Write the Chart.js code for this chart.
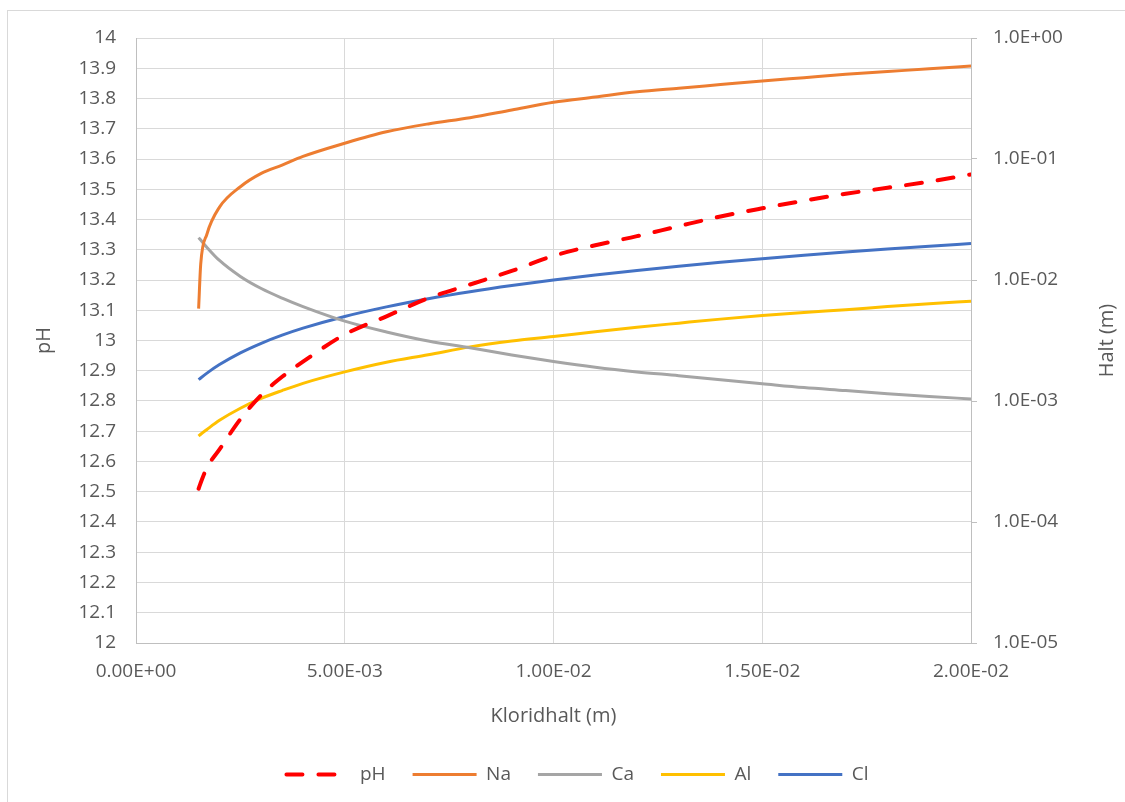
<!DOCTYPE html>
<html>
<head>
<meta charset="utf-8">
<script src="https://cdn.jsdelivr.net/npm/chart.js@4.4.1/dist/chart.umd.min.js"></script>
<style>
  html, body { margin: 0; padding: 0; background: #fff; }
  #wrap { position: relative; width: 1125px; height: 802px; overflow: hidden; }
  #frame { position: absolute; left: 7px; top: 10px; width: 1140px; height: 820px; border: 1px solid #d9d9d9; box-sizing: border-box; }
  #chart { position: absolute; left: 0; top: 0; }
</style>
</head>
<body>
<div id="wrap">
  <div id="frame"></div>
  <canvas id="chart" width="1125" height="802"></canvas>
</div>
<script>
// --- data ---
const kloridhalt = [0.0015, 0.00155, 0.0017, 0.002, 0.0025, 0.003, 0.0035, 0.004, 0.005, 0.006, 0.007, 0.008,
                    0.009, 0.010, 0.011, 0.012, 0.013, 0.014, 0.015, 0.016, 0.017, 0.018, 0.019, 0.020];
const pH = [12.51, 12.53, 12.58, 12.64, 12.74, 12.82, 12.88, 12.93, 13.02, 13.08, 13.14, 13.185,
            13.23, 13.28, 13.315, 13.345, 13.378, 13.41, 13.437, 13.462, 13.485, 13.505, 13.525, 13.549];
const na = [0.0058, 0.0135, 0.024, 0.040, 0.059, 0.076, 0.089, 0.105, 0.135, 0.168, 0.195, 0.219,
            0.254, 0.294, 0.325, 0.359, 0.385, 0.412, 0.441, 0.470, 0.501, 0.528, 0.557, 0.586];
const ca = [0.0224, 0.0214, 0.0186, 0.0145, 0.0107, 0.0085, 0.00708, 0.00603, 0.00457, 0.00372, 0.00313, 0.00275,
            0.0024, 0.00212, 0.0019, 0.00174, 0.00162, 0.0015, 0.00139, 0.00129, 0.00122, 0.00115, 0.00109, 0.00104];
const al = [0.000513, 0.000531, 0.000582, 0.000692, 0.000871, 0.00105, 0.00122, 0.0014, 0.00174, 0.00209, 0.00241, 0.0028,
            0.00313, 0.00341, 0.00374, 0.00407, 0.0044, 0.00475, 0.00509, 0.0054, 0.00569, 0.00603, 0.00635, 0.00668];
const cl = [0.0015, 0.00155, 0.0017, 0.002, 0.0025, 0.003, 0.0035, 0.004, 0.005, 0.006, 0.007, 0.008,
            0.009, 0.010, 0.011, 0.012, 0.013, 0.014, 0.015, 0.016, 0.017, 0.018, 0.019, 0.020];

const haltTicks = [1e-5, 1e-4, 1e-3, 1e-2, 1e-1, 1];

const FONT = '"Open Sans", "Noto Sans", sans-serif';
const TXT = '#595959';
const GRID = '#d9d9d9';
const AXIS = '#bfbfbf';

// 5.00E-03 style labels like Excel
function sci(v, d) {
    const [m, e] = Number(v).toExponential(d).split('e');
    const n = parseInt(e, 10);
    return m + 'E' + (n < 0 ? '-' : '+') + String(Math.abs(n)).padStart(2, '0');
}

function pts(values) {
    return kloridhalt.map((x, i) => ({ x: x, y: values[i] }));
}

function serie(label, values, color, axis, extra) {
    return Object.assign({
        label: label,
        data: pts(values),
        yAxisID: axis,
        borderColor: color,
        backgroundColor: color,
        borderWidth: 3,
        pointRadius: 0,
        cubicInterpolationMode: 'monotone',
        fill: false
    }, extra || {});
}

// legend with point style loses the dash, put it back from the dataset
function legendLabels(chart) {
    return Chart.defaults.plugins.legend.labels.generateLabels(chart).map(item => {
        const ds = chart.data.datasets[item.datasetIndex];
        item.lineDash = ds.borderDash || [];
        item.lineWidth = ds.borderWidth;
        item.lineCap = ds.borderCapStyle || 'butt';
        item.strokeStyle = ds.borderColor;
        return item;
    });
}

// right axis title reads bottom-to-top, chart.js would turn it the other way
const haltTitle = {
    id: 'haltTitle',
    afterDraw(chart) {
        const { ctx, chartArea } = chart;
        ctx.save();
        ctx.translate(chart.width - 18, (chartArea.top + chartArea.bottom) / 2);
        ctx.rotate(-Math.PI / 2);
        ctx.font = '20px ' + FONT;
        ctx.fillStyle = TXT;
        ctx.textAlign = 'center';
        ctx.textBaseline = 'middle';
        ctx.fillText('Halt (m)', 0, 0);
        ctx.restore();
    }
};

new Chart(document.getElementById('chart'), {
    type: 'line',
    data: {
        datasets: [
            serie('pH', pH, '#ff0000', 'y', { borderWidth: 4, borderDash: [16, 16], borderCapStyle: 'round' }),
            serie('Na', na, '#ed7d31', 'y1'),
            serie('Ca', ca, '#a5a5a5', 'y1'),
            serie('Al', al, '#ffc000', 'y1'),
            serie('Cl', cl, '#4472c4', 'y1')
        ]
    },
    options: {
        responsive: false,
        animation: false,
        layout: { padding: { left: 30, right: 0, top: 38, bottom: 8 } },
        plugins: {
            tooltip: { enabled: false },
            legend: {
                position: 'bottom',
                labels: {
                    usePointStyle: true,
                    pointStyle: 'line',
                    pointStyleWidth: 64,
                    padding: 27,
                    color: TXT,
                    font: { family: FONT, size: 19 },
                    generateLabels: legendLabels
                }
            }
        },
        scales: {
            x: {
                type: 'linear',
                min: 0,
                max: 0.02,
                ticks: {
                    stepSize: 0.005,
                    autoSkip: false,
                    maxRotation: 0,
                    padding: 17,
                    color: TXT,
                    font: { family: FONT, size: 19 },
                    callback: v => sci(v, 2)
                },
                grid: { color: GRID, drawTicks: false },
                border: { color: AXIS },
                title: {
                    display: true,
                    text: 'Kloridhalt (m)',
                    color: TXT,
                    font: { family: FONT, size: 20 },
                    padding: { top: 0, bottom: 10 }
                },
                afterFit: s => { s.height = 95; }
            },
            y: {
                position: 'left',
                min: 12,
                max: 14,
                ticks: {
                    stepSize: 0.1,
                    autoSkip: false,
                    padding: 20,
                    color: TXT,
                    font: { family: FONT, size: 19 },
                    callback: v => String(Math.round(v * 10) / 10)
                },
                grid: { color: GRID, drawTicks: false },
                border: { color: AXIS },
                title: {
                    display: true,
                    text: 'pH',
                    color: TXT,
                    font: { family: FONT, size: 20 },
                    padding: { top: 2, bottom: 0 }
                },
                afterFit: s => { s.width = 106; }
            },
            y1: {
                type: 'logarithmic',
                position: 'right',
                min: 1e-5,
                max: 1,
                afterBuildTicks: s => { s.ticks = haltTicks.map(v => ({ value: v })); },
                ticks: {
                    autoSkip: false,
                    padding: 16,
                    color: TXT,
                    font: { family: FONT, size: 19 },
                    callback: v => sci(v, 1)
                },
                grid: { drawOnChartArea: false, tickLength: 6, color: AXIS },
                border: { color: AXIS },
                afterFit: s => { s.width = 154; }
            }
        }
    },
    plugins: [haltTitle]
});
</script>
</body>
</html>
